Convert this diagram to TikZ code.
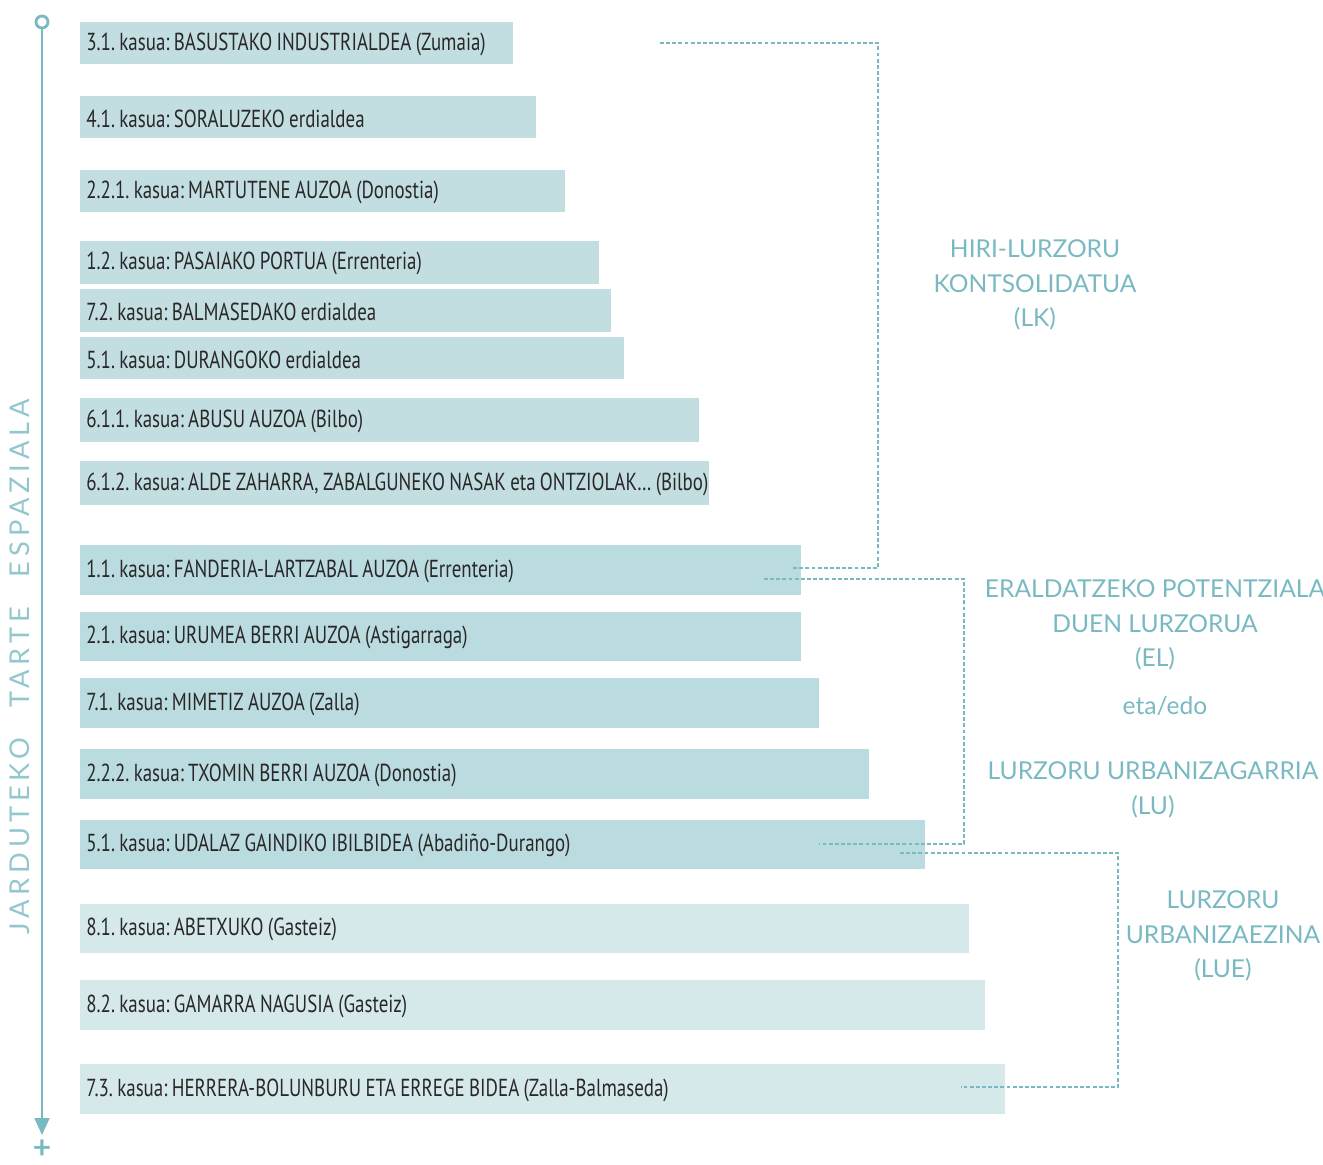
\documentclass[tikz,border=0pt]{standalone}
\usepackage{fontspec}
\usetikzlibrary{arrows.meta}
\newfontfamily\barfont[FakeStretch=0.77, WordSpace=0.85]{PT Sans}
\newfontfamily\lblfont{Lato}
\definecolor{tealline}{HTML}{78B9C2}
\definecolor{barA}{HTML}{C2DEE1}
\definecolor{barB}{HTML}{BADBDF}
\definecolor{barC}{HTML}{D5E9EB}
\definecolor{ink}{HTML}{2A2728}
\tikzset{
  bar/.style={anchor=west, inner sep=0pt},
  bartext/.style={anchor=west, inner sep=0pt, text=ink,
    font=\barfont\fontsize{14}{15}\selectfont\frenchspacing},
  soil/.style={align=center, text=tealline, font=\lblfont\fontsize{14}{19.6}\selectfont},
  bracket/.style={tealline, line width=0.8pt, dash pattern=on 2.2pt off 1.3pt}
}
\begin{document}
\begin{tikzpicture}[x=0.02cm, y=-0.02cm]
\useasboundingbox (0,0) rectangle (1323,1164);
% axis
\node[circle, draw=tealline, line width=1.6pt, minimum size=0.24cm, inner sep=0pt] (top) at (42,22) {};
\coordinate (tip) at (42,1135);
\draw[tealline, line width=1.1pt, -{Triangle[length=0.34cm, width=0.3cm]}] (top) -- (tip);
\node[text=tealline, inner sep=0pt, font=\lblfont\bfseries\fontsize{18}{18}\selectfont] (plus) at (42,1149) {+};
\node[rotate=90, text=tealline!80, font=\lblfont\fontsize{15.5}{16}\selectfont] (tarte) at (20,667)
  {\addfontfeatures{LetterSpace=18}JARDUTEKO\hspace{1.1em}TARTE\hspace{1.1em}ESPAZIALA};
% bars
\foreach \n/\y/\w/\h/\c/\t in {
  1/43/433/42/barA/{3.1. kasua: BASUSTAKO INDUSTRIALDEA (Zumaia)},
  2/117/456/42/barA/{4.1. kasua: SORALUZEKO erdialdea},
  3/191/485/42/barA/{2.2.1. kasua: MARTUTENE AUZOA (Donostia)},
  4/262/519/43/barA/{1.2. kasua: PASAIAKO PORTUA (Errenteria)},
  5/310/531/43/barA/{7.2. kasua: BALMASEDAKO erdialdea},
  6/358/544/42/barA/{5.1. kasua: DURANGOKO erdialdea},
  7/420/619/44/barA/{6.1.1. kasua: ABUSU AUZOA (Bilbo)},
  8/483/629/44/barA/{6.1.2. kasua: ALDE ZAHARRA, ZABALGUNEKO NASAK eta ONTZIOLAK… (Bilbo)},
  9/570/721/50/barB/{1.1. kasua: FANDERIA-LARTZABAL AUZOA (Errenteria)},
  10/636/721/49/barB/{2.1. kasua: URUMEA BERRI AUZOA (Astigarraga)},
  11/703/739/50/barB/{7.1. kasua: MIMETIZ AUZOA (Zalla)},
  12/774/789/50/barB/{2.2.2. kasua: TXOMIN BERRI AUZOA (Donostia)},
  13/844/845/49/barB/{5.1. kasua: UDALAZ GAINDIKO IBILBIDEA (Abadiño-Durango)},
  14/928/889/49/barC/{8.1. kasua: ABETXUKO (Gasteiz)},
  15/1005/905/50/barC/{8.2. kasua: GAMARRA NAGUSIA (Gasteiz)},
  16/1089/925/50/barC/{7.3. kasua: HERRERA-BOLUNBURU ETA ERREGE BIDEA (Zalla-Balmaseda)}}
{
  \pgfmathsetmacro\ww{\w*0.02}
  \pgfmathsetmacro\hh{\h*0.02}
  \node[bar, fill=\c, minimum width=\ww cm, minimum height=\hh cm] (b\n) at (80,\y) {};
  \node[bartext] (t\n) at ([xshift=0.12cm, yshift=-0.03cm]b\n.west) {\t};
}
% soil classes
\node[soil] (lk) at (1035,285) {HIRI-LURZORU\\KONTSOLIDATUA\\(LK)};
\node[soil] (el) at (1155,625) {ERALDATZEKO POTENTZIALA\\DUEN LURZORUA\\(EL)};
\node[soil] (etaedo) at (1165,706) {eta/edo};
\node[soil] (lu) at (1153,790) {LURZORU URBANIZAGARRIA\\(LU)};
\node[soil] (lue) at (1223,936) {LURZORU\\URBANIZAEZINA\\(LUE)};
% brackets
\coordinate (lkA) at (660,43);   \coordinate (lkB) at (793,568);   \coordinate (lkX) at (878,0);
\coordinate (elA) at (764,579);  \coordinate (elB) at (819,844);   \coordinate (elX) at (964,0);
\coordinate (lueA) at (900,853); \coordinate (lueB) at (961,1087); \coordinate (lueX) at (1118,0);
\draw[bracket] (lkA) -| (lkX |- lkB) -- (lkB);
\draw[bracket] (elA) -| (elX |- elB) -- (elB);
\draw[bracket] (lueA) -| (lueX |- lueB) -- (lueB);
\end{tikzpicture}
\end{document}
